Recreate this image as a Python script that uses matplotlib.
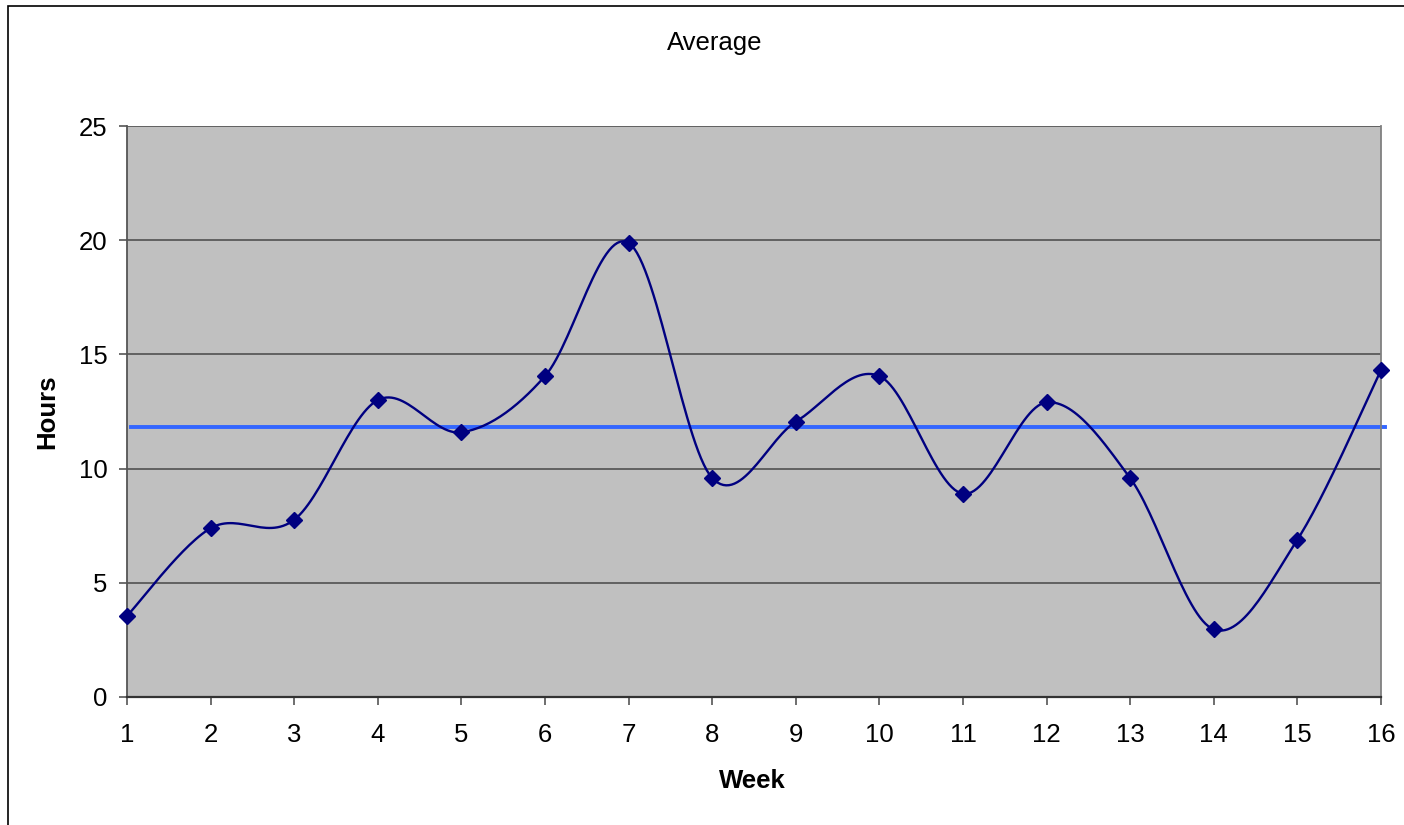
import numpy as np
import matplotlib
matplotlib.use("Agg")
import matplotlib.pyplot as plt
from matplotlib.patches import Rectangle

weeks = list(range(1, 17))
hours = [3.55, 7.39, 7.76, 13.0, 11.59, 14.05, 19.88, 9.59, 12.05, 14.05,
         8.9, 12.9, 9.58, 2.96, 6.89, 14.31]
average_value = 11.8
y_ticks = [0, 5, 10, 15, 20, 25]

plt.rcParams['font.family'] = ['Liberation Sans', 'DejaVu Sans']


def smooth_curve(xs, ys, n=30):
    # Catmull-Rom / Bezier spline through the points (Excel-style smoothed line)
    xs = np.asarray(xs, float)
    ys = np.asarray(ys, float)
    px = np.concatenate([[xs[0]], xs, [xs[-1]]])
    py = np.concatenate([[ys[0]], ys, [ys[-1]]])
    outx, outy = [], []
    for i in range(1, len(px) - 2):
        p0, p1, p2, p3 = (np.array([px[j], py[j]]) for j in (i - 1, i, i + 1, i + 2))
        c1 = p1 + (p2 - p0) / 6.0
        c2 = p2 - (p3 - p1) / 6.0
        t = np.linspace(0, 1, n, endpoint=(i == len(px) - 3))
        b = ((1 - t) ** 3)[:, None] * p1 + (3 * (1 - t) ** 2 * t)[:, None] * c1 \
            + (3 * (1 - t) * t ** 2)[:, None] * c2 + (t ** 3)[:, None] * p2
        outx.extend(b[:, 0]); outy.extend(b[:, 1])
    return np.array(outx), np.array(outy)


W, H = 1404, 825
fig = plt.figure(figsize=(W / 100, H / 100), dpi=100)
fig.patch.set_facecolor('white')
# outer chart border
fig.patches.append(Rectangle((8 / W, -0.05), 1.1, 1.05 - 6 / H,
                             transform=fig.transFigure, fill=False,
                             edgecolor='black', linewidth=1.2))

ax = fig.add_axes([127 / W, (H - 697) / H, (1381 - 127) / W, (697 - 126) / H])
ax.set_facecolor('#C0C0C0')
ax.set_xlim(1, 16)
ax.set_ylim(0, 25)
ax.set_yticks(y_ticks)
ax.set_xticks(weeks)
ax.grid(axis='y', color='#5a5a5a', linewidth=1.3)
ax.set_axisbelow(True)

sx, sy = smooth_curve(weeks, hours)
ax.plot(sx, sy, color='#000080', linewidth=1.7, zorder=3, clip_on=False)
ax.plot(weeks, hours, linestyle='none', marker='D', markersize=8,
        color='#000080', zorder=4, clip_on=False)
ax.axhline(average_value, xmin=0.003, xmax=1.003, color='#3366FF', linewidth=2.8,
           zorder=2, clip_on=False)

ax.spines['top'].set_visible(False)
for s in ['left', 'right', 'bottom']:
    ax.spines[s].set_color('#555555')
    ax.spines[s].set_linewidth(1.3)
ax.spines['right'].set_color('#808080')
ax.spines['bottom'].set_color('#333333')
ax.spines['bottom'].set_linewidth(1.6)

ax.tick_params(axis='both', labelsize=18.5, length=5.5, width=1.2, color='#555555',
               direction='out', labelcolor='black')
ax.tick_params(axis='x', pad=13)
ax.tick_params(axis='y', pad=8.5)

fig.text(752 / W, 1 - 781 / H, 'Week', ha='center', va='center',
         fontsize=18.5, fontweight='bold')
fig.text(47.5 / W, 1 - 412 / H, 'Hours', ha='center', va='center',
         fontsize=18.5, fontweight='bold', rotation=90)
fig.text(715 / W, 1 - 43 / H, 'Average', ha='center', va='center', fontsize=18.5)

fig.savefig('out.png', dpi=100)
